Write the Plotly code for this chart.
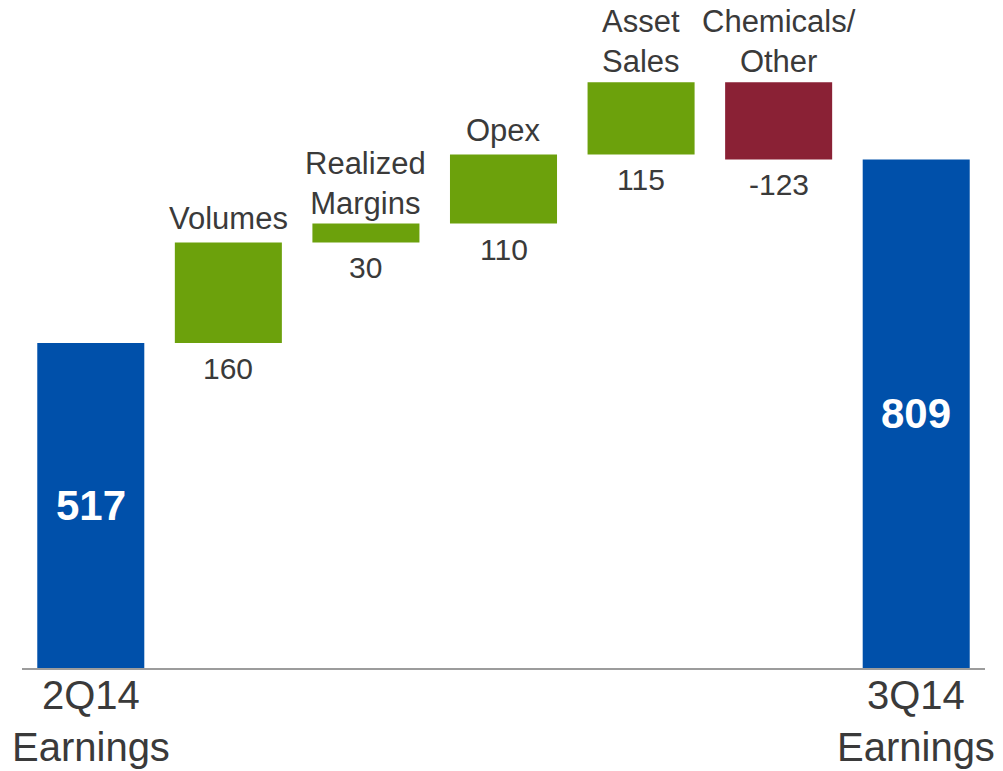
import plotly.graph_objects as go

# Earnings bridge, 2Q14 -> 3Q14
categories = ["2Q14 Earnings", "Volumes", "Realized Margins", "Opex",
              "Asset Sales", "Chemicals/Other", "3Q14 Earnings"]
top_labels = ["", "Volumes", "Realized<br>Margins", "Opex",
              "Asset<br>Sales", "Chemicals/<br>Other", ""]
bottom_labels = ["2Q14<br>Earnings", "", "", "", "", "", "3Q14<br>Earnings"]
measures = ["absolute", "relative", "relative", "relative",
            "relative", "relative", "total"]
values = [517, 160, 30, 110, 115, -123, 809]

BLUE = "#0050AA"
GREEN = "#6CA10C"
MAROON = "#8A2135"
TEXT = "#3a3a3a"
FONT = "Liberation Sans, Arial, sans-serif"

x = list(range(len(categories)))

# running totals -> low/high edge of each bar
lows, highs = [], []
running = 0
for m, v in zip(measures, values):
    if m == "absolute":
        running = v
        lo, hi = 0, v
    elif m == "total":
        lo, hi = 0, running
    else:
        start = running
        running += v
        lo, hi = min(start, running), max(start, running)
    lows.append(lo)
    highs.append(hi)

fig = go.Figure(go.Waterfall(
    x=x,
    y=values,
    measure=measures,
    width=0.778,
    increasing=dict(marker=dict(color=GREEN)),
    decreasing=dict(marker=dict(color=MAROON)),
    totals=dict(marker=dict(color=BLUE)),
    connector=dict(visible=False),
    hoverinfo="skip",
))

annotations = []
for i, m in enumerate(measures):
    if m == "relative":
        two_line = "<br>" in top_labels[i]
        # step name above the bar
        annotations.append(dict(
            x=i, y=highs[i], text=top_labels[i], showarrow=False,
            yanchor="bottom", yshift=1 if two_line else 4,
            font=dict(family=FONT, size=31, color=TEXT),
        ))
        # step value below the bar
        annotations.append(dict(
            x=i, y=lows[i], text=str(values[i]), showarrow=False,
            yanchor="top", yshift=-7,
            font=dict(family=FONT, size=30, color=TEXT),
        ))
    else:
        # value inside the total bar
        annotations.append(dict(
            x=i, y=highs[i] / 2, text=f"<b>{highs[i]}</b>", showarrow=False,
            yanchor="middle",
            font=dict(family=FONT, size=42, color="white"),
        ))
        # period label under the axis
        annotations.append(dict(
            x=i, y=0, text=bottom_labels[i], showarrow=False,
            yanchor="top", yshift=-3,
            font=dict(family=FONT, size=40, color=TEXT),
        ))

fig.update_layout(
    width=1003, height=771,
    margin=dict(l=22, r=18, t=0, b=103),
    paper_bgcolor="white", plot_bgcolor="white",
    showlegend=False,
    annotations=annotations,
    xaxis=dict(range=[-0.5, 6.5], showline=True, linecolor="#9c9c9c",
               linewidth=2, showticklabels=False, ticks="",
               showgrid=False, zeroline=False, fixedrange=True),
    yaxis=dict(range=[0, 1062.7], visible=False, showgrid=False,
               zeroline=False, fixedrange=True),
)

fig.write_html("out.html")
